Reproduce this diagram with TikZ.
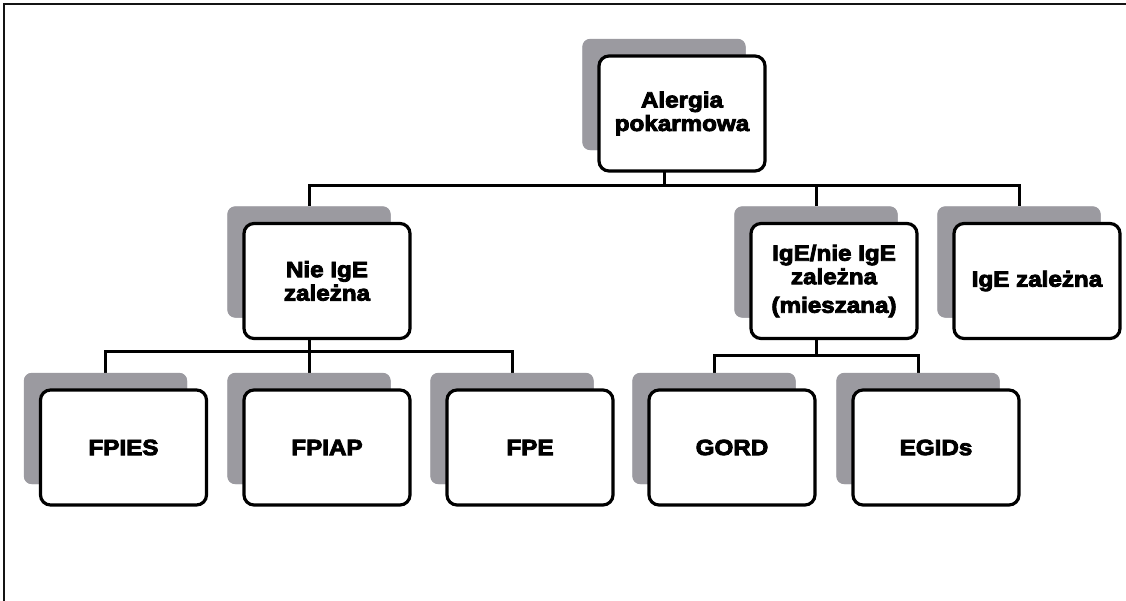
\documentclass[tikz,border=0pt]{standalone}
\usepackage{fontspec}
\newfontfamily\boxfont{Liberation Sans}[FakeStretch=1.1,BoldFeatures={FakeBold=4}]
\usepackage{tikz}
\usepackage{xcolor}
\definecolor{shadowGray}{RGB}{155,154,160}
\definecolor{frameBlack}{RGB}{20,20,20}
\tikzset{
  backbox/.style={rounded corners=8pt,fill=shadowGray,draw=none,minimum width=163pt,minimum height=111pt,inner sep=0pt},
  frontbox/.style={rounded corners=10pt,draw=black,fill=white,line width=3.2pt,minimum width=166pt,minimum height=115pt,inner sep=0pt,align=center,font=\boxfont\bfseries\fontsize{22}{23.5}\selectfont},
  link/.style={draw=black,line width=3pt}
}

\begin{document}
\begin{tikzpicture}[x=1pt,y=-1pt]
\useasboundingbox (0,0) rectangle (1126,600);
\draw[frameBlack,line width=2.4pt] (4,604) -- (4,4) -- (1130,4);

% gray back boxes
\node[backbox] (alergiaS) at (664,94.5) {};
\node[backbox] (nieS) at (309,262) {};
\node[backbox] (mixS) at (816,262) {};
\node[backbox] (igeS) at (1019,262) {};
\node[backbox] (fpiesS) at (105.5,428.5) {};
\node[backbox] (fpiapS) at (309,428.5) {};
\node[backbox] (fpeS) at (512,428.5) {};
\node[backbox] (gordS) at (714,428.5) {};
\node[backbox] (egidsS) at (918,428.5) {};

% connectors
\coordinate (busTop) at (664,185);
\coordinate (busNie) at (309,351);
\coordinate (busMix) at (816,355);
\draw[link] (alergiaS.center) -- (busTop);
\draw[link] (nieS.north) |- (busTop) -| (igeS.north);
\draw[link] (mixS.north) -- (mixS.north |- busTop);
\draw[link] (nieS.center) -- (busNie);
\draw[link] (fpiesS.north) |- (busNie) -| (fpeS.north);
\draw[link] (fpiapS.north) -- (busNie);
\draw[link] (mixS.center) -- (busMix);
\draw[link] (gordS.north) |- (busMix) -| (egidsS.north);

% redraw the gray boxes over the connector ends
\foreach \b in {alergiaS,nieS,mixS,igeS,fpiesS,fpiapS,fpeS,gordS,egidsS}
  \fill[shadowGray,rounded corners=8pt] (\b.north west) rectangle (\b.south east);

% white front boxes
\node[frontbox] (alergia) at ([shift={(18,19)}]alergiaS.center) {Alergia\\pokarmowa};
\node[frontbox] (nie) at ([shift={(18,19)}]nieS.center) {Nie IgE\\zależna};
\node[frontbox] (mix) at ([shift={(18,19)}]mixS.center) {IgE/nie IgE\\zależna\\[5pt](mieszana)};
\node[frontbox] (ige) at ([shift={(18,19)}]igeS.center) {IgE zależna};
\node[frontbox] (fpies) at ([shift={(18,19)}]fpiesS.center) {FPIES};
\node[frontbox] (fpiap) at ([shift={(18,19)}]fpiapS.center) {FPIAP};
\node[frontbox] (fpe) at ([shift={(18,19)}]fpeS.center) {FPE};
\node[frontbox] (gord) at ([shift={(18,19)}]gordS.center) {GORD};
\node[frontbox] (egids) at ([shift={(18,19)}]egidsS.center) {EGIDs};
\end{tikzpicture}
\end{document}
